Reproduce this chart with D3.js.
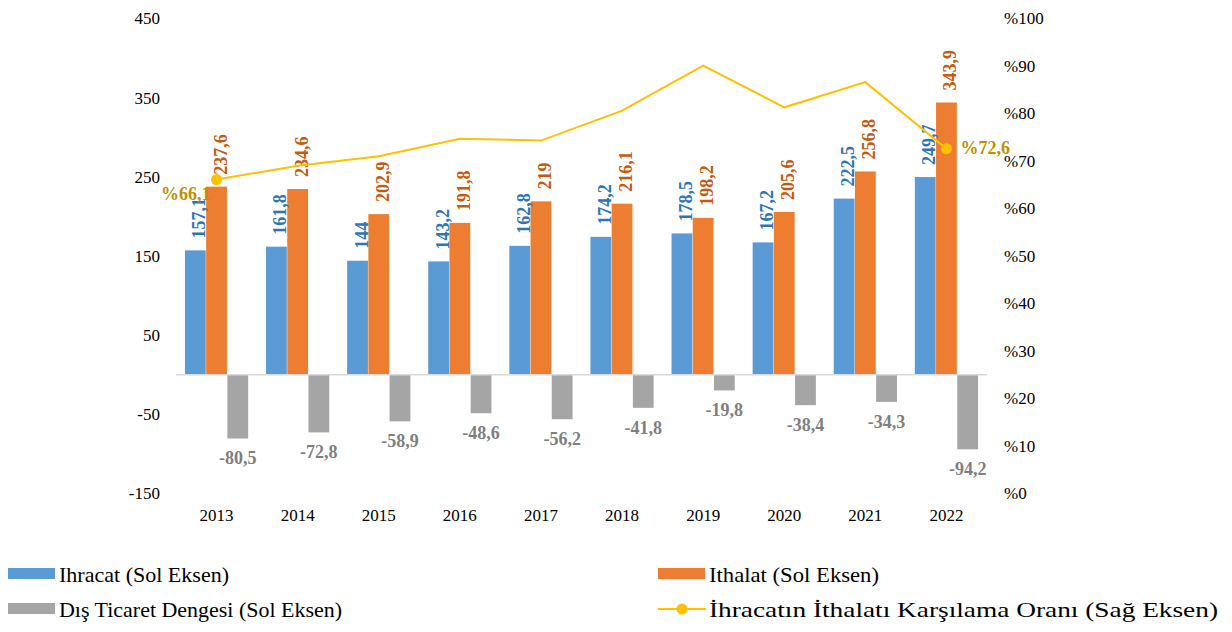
<!DOCTYPE html>
<html>
<head>
<meta charset="utf-8">
<script src="https://cdn.jsdelivr.net/npm/d3@7"></script>
<style>
  body { margin: 0; background: #fff; }
  svg { display: block; font-family: "Liberation Serif", "Times New Roman", serif; }
</style>
</head>
<body>
<div id="chart"></div>
<script>
var years = ["2013", "2014", "2015", "2016", "2017", "2018", "2019", "2020", "2021", "2022"];
var ihracat = [157.1, 161.8, 144, 143.2, 162.8, 174.2, 178.5, 167.2, 222.5, 249.7];
var ithalat = [237.6, 234.6, 202.9, 191.8, 219, 216.1, 198.2, 205.6, 256.8, 343.9];
var denge = [-80.5, -72.8, -58.9, -48.6, -56.2, -41.8, -19.8, -38.4, -34.3, -94.2];
var oran = [66.1, 69.0, 71.0, 74.7, 74.3, 80.6, 90.1, 81.3, 86.6, 72.6];
var leftTicks = [-150, -50, 50, 150, 250, 350, 450];
var rightTicks = [0, 10, 20, 30, 40, 50, 60, 70, 80, 90, 100];

var W = 1232, H = 632;
var svg = d3.select("#chart").append("svg")
	.attr("width", W)
	.attr("height", H);

var x0 = d3.scaleBand()
	.domain(years)
	.range([176, 987])
	.paddingInner(0.21)
	.paddingOuter(0.105);

var x1 = d3.scaleBand()
	.domain(["ihr", "ith", "den"])
	.range([0, x0.bandwidth()])
	.padding(0.02);

var yL = d3.scaleLinear().domain([-150, 450]).range([493.5, 18.5]);
var yR = d3.scaleLinear().domain([0, 100]).range([493.5, 18.5]);

// left axis
var leftAxis = svg.append("g")
	.attr("transform", "translate(160,0)")
	.call(d3.axisLeft(yL).tickValues(leftTicks).tickSize(0).tickPadding(0)
		.tickFormat(function(d){ return String(d); }));
leftAxis.select(".domain").remove();
leftAxis.selectAll("text")
	.attr("font-family", "Liberation Serif")
	.attr("font-size", 17)
	.attr("fill", "#000");

// right axis
var rightAxis = svg.append("g")
	.attr("transform", "translate(1004,0)")
	.call(d3.axisRight(yR).tickValues(rightTicks).tickSize(0).tickPadding(0)
		.tickFormat(function(d){ return "%" + d; }));
rightAxis.select(".domain").remove();
rightAxis.selectAll("text")
	.attr("font-family", "Liberation Serif")
	.attr("font-size", 17)
	.attr("fill", "#000");

// x axis labels
var xAxis = svg.append("g")
	.attr("transform", "translate(0,509)")
	.call(d3.axisBottom(x0).tickSize(0).tickPadding(0));
xAxis.select(".domain").remove();
xAxis.selectAll("text")
	.attr("font-family", "Liberation Serif")
	.attr("font-size", 17)
	.attr("fill", "#000");

var groups = svg.selectAll("g.year")
	.data(years)
	.enter().append("g")
	.attr("class", "year")
	.attr("transform", function(d){ return "translate(" + x0(d) + ",0)"; });

// bars
groups.append("rect")
	.attr("x", x1("ihr"))
	.attr("width", x1.bandwidth())
	.attr("y", function(d, i){ return yL(ihracat[i]); })
	.attr("height", function(d, i){ return yL(0) - yL(ihracat[i]); })
	.attr("fill", "#5B9BD5");

groups.append("rect")
	.attr("x", x1("ith"))
	.attr("width", x1.bandwidth())
	.attr("y", function(d, i){ return yL(ithalat[i]); })
	.attr("height", function(d, i){ return yL(0) - yL(ithalat[i]); })
	.attr("fill", "#ED7D31");

groups.append("rect")
	.attr("x", x1("den"))
	.attr("width", x1.bandwidth())
	.attr("y", yL(0))
	.attr("height", function(d, i){ return yL(denge[i]) - yL(0); })
	.attr("fill", "#A5A5A5");

// zero line
svg.append("line")
	.attr("x1", 176).attr("x2", 987)
	.attr("y1", yL(0)).attr("y2", yL(0))
	.attr("stroke", "#D9D9D9")
	.attr("stroke-width", 1.5);

function fmt(v){ return String(v).replace(".", ","); }

// value labels
groups.append("text")
	.attr("transform", function(d, i){
		return "translate(" + (x1("ihr") + x1.bandwidth() / 2 + 10) + "," + (yL(ihracat[i]) - 12) + ") rotate(-90)";
	})
	.attr("font-size", 18)
	.attr("font-weight", "bold")
	.attr("fill", "#2E75B6")
	.text(function(d, i){ return fmt(ihracat[i]); });

groups.append("text")
	.attr("transform", function(d, i){
		return "translate(" + (x1("ith") + x1.bandwidth() / 2 + 10) + "," + (yL(ithalat[i]) - 12) + ") rotate(-90)";
	})
	.attr("font-size", 18)
	.attr("font-weight", "bold")
	.attr("fill", "#C55A11")
	.text(function(d, i){ return fmt(ithalat[i]); });

groups.append("text")
	.attr("x", x1("den") + x1.bandwidth() / 2)
	.attr("y", function(d, i){ return yL(denge[i]) + 26; })
	.attr("text-anchor", "middle")
	.attr("font-size", 18)
	.attr("font-weight", "bold")
	.attr("fill", "#7F7F7F")
	.text(function(d, i){ return fmt(denge[i]); });

// ratio line
var line = d3.line()
	.x(function(d, i){ return x0(years[i]) + x0.bandwidth() / 2; })
	.y(function(d){ return yR(d); });

svg.append("path")
	.datum(oran)
	.attr("d", line)
	.attr("fill", "none")
	.attr("stroke", "#FFC000")
	.attr("stroke-width", 2);

var ends = [0, oran.length - 1];
svg.selectAll("circle.end")
	.data(ends)
	.enter().append("circle")
	.attr("class", "end")
	.attr("cx", function(i){ return x0(years[i]) + x0.bandwidth() / 2; })
	.attr("cy", function(i){ return yR(oran[i]); })
	.attr("r", 5.5)
	.attr("fill", "#FFC000");

svg.append("text")
	.attr("x", x0(years[0]) + x0.bandwidth() / 2 - 6)
	.attr("y", yR(oran[0]) + 20)
	.attr("text-anchor", "end")
	.attr("font-size", 18)
	.attr("font-weight", "bold")
	.attr("fill", "#BF9000")
	.text("%" + fmt(oran[0]));

svg.append("text")
	.attr("x", x0(years[9]) + x0.bandwidth() / 2 + 14)
	.attr("y", yR(oran[9]) + 5)
	.attr("font-size", 18)
	.attr("font-weight", "bold")
	.attr("fill", "#BF9000")
	.text("%" + fmt(oran[9]));

// legend
var legend = [
	{ name: "Ihracat (Sol Eksen)", color: "#5B9BD5", x: 8, y: 574, type: "rect", len: 170 },
	{ name: "Ithalat (Sol Eksen)", color: "#ED7D31", x: 658, y: 574, type: "rect", len: 170 },
	{ name: "Dış Ticaret Dengesi (Sol Eksen)", color: "#A5A5A5", x: 8, y: 609, type: "rect", len: 283 },
	{ name: "İhracatın İthalatı Karşılama Oranı (Sağ Eksen)", color: "#FFC000", x: 658, y: 609, type: "line", len: 509 }
];

var lg = svg.selectAll("g.legend")
	.data(legend)
	.enter().append("g")
	.attr("class", "legend")
	.attr("transform", function(d){ return "translate(" + d.x + "," + d.y + ")"; });

lg.filter(function(d){ return d.type == "rect"; })
	.append("rect")
	.attr("x", 0).attr("y", -6)
	.attr("width", 47).attr("height", 11)
	.attr("fill", function(d){ return d.color; });

var ll = lg.filter(function(d){ return d.type == "line"; });
ll.append("line")
	.attr("x1", 0).attr("x2", 48)
	.attr("y1", 0).attr("y2", 0)
	.attr("stroke", function(d){ return d.color; })
	.attr("stroke-width", 2);
ll.append("circle")
	.attr("cx", 24).attr("cy", 0).attr("r", 5.5)
	.attr("fill", function(d){ return d.color; });

lg.append("text")
	.attr("x", 51)
	.attr("y", 8)
	.attr("font-size", 22)
	.attr("fill", "#000")
	.attr("textLength", function(d){ return d.len; })
	.attr("lengthAdjust", "spacingAndGlyphs")
	.text(function(d){ return d.name; });
</script>
</body>
</html>
